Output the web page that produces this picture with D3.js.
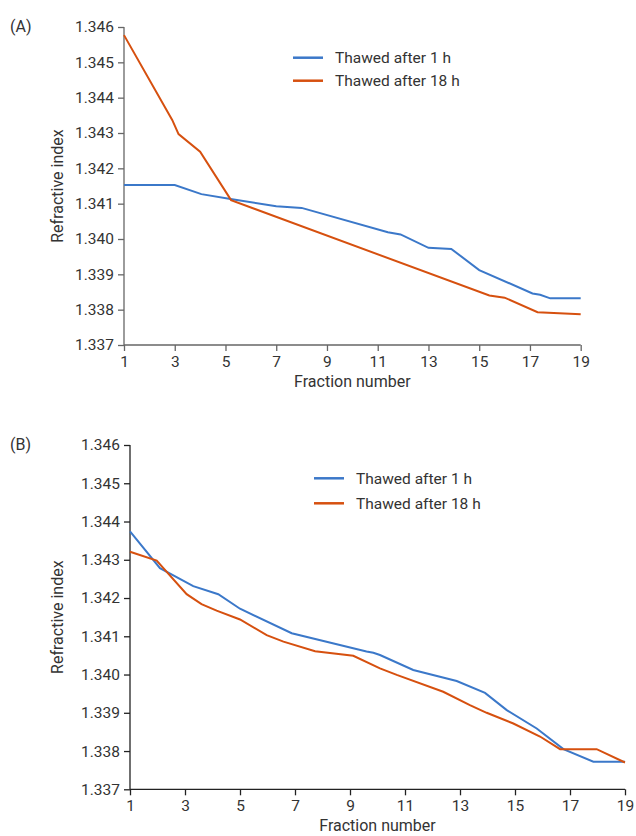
<!DOCTYPE html>
<html>
<head>
<meta charset="utf-8">
<script src="https://cdn.jsdelivr.net/npm/d3@7"></script>
<style>
  body { margin: 0; background: #fff; }
  text { font-family: Roboto, "Noto Sans", sans-serif; fill: #333; }
</style>
</head>
<body>
<div id="chart"></div>
<script>
// Panel A: [fraction, refractive index]
const seriesNames = ["Thawed after 1 h", "Thawed after 18 h"];
const xTicks = [1, 3, 5, 7, 9, 11, 13, 15, 17, 19];
const yTicks = [1.337, 1.338, 1.339, 1.340, 1.341, 1.342, 1.343, 1.344, 1.345, 1.346];

const panelA_1h = [
    [1, 1.34153], [3, 1.34153], [4.05, 1.34127], [5.2, 1.34113], [7, 1.34093],
    [8, 1.34088], [11.4, 1.34019], [11.9, 1.34013], [13, 1.33975], [13.9, 1.33972],
    [15, 1.33912], [17.1, 1.33846], [17.4, 1.33842], [17.8, 1.33832], [19, 1.33832]
];
const panelA_18h = [
    [1, 1.34577], [2.9, 1.34337], [3.15, 1.34297], [4, 1.34247], [5.22, 1.34110],
    [15.4, 1.33840], [16, 1.33834], [17.3, 1.33793], [19, 1.33787]
];

// Panel B
const panelB_1h = [
    [1, 1.34374], [2.09, 1.34278], [3.3, 1.34231], [4.21, 1.34210], [5, 1.34172],
    [6.88, 1.34108], [9.6, 1.34060], [9.85, 1.34057], [10.09, 1.34051], [11.3, 1.34012],
    [12.88, 1.33983], [13.91, 1.33952], [14.7, 1.33907], [15.79, 1.33859], [16.76, 1.33805],
    [17.85, 1.33772], [19, 1.33772]
];
const panelB_18h = [
    [1, 1.34321], [1.97, 1.34298], [3.06, 1.34210], [3.6, 1.34184], [4.15, 1.34167],
    [5, 1.34144], [5.97, 1.34103], [6.58, 1.34086], [7.73, 1.34061], [9.12, 1.34049],
    [10.09, 1.34016], [10.7, 1.33999], [12.39, 1.33955], [13.36, 1.33920], [13.97, 1.33900],
    [14.94, 1.33872], [15.91, 1.33838], [16.64, 1.33805], [17.97, 1.33805], [19, 1.33770]
];

const colors = ["#3b78c9", "#d6500f"];

const svg = d3.select("#chart").append("svg")
    .attr("width", 636)
    .attr("height", 836);

function drawPanel(p) {
    const x = d3.scaleLinear().domain([1, 19]).range([p.left, p.right]);
    const y = d3.scaleLinear().domain([1.337, 1.346]).range([p.bottom, p.top]);

    const g = svg.append("g");

    const xAxis = g.append("g")
        .attr("transform", `translate(0,${p.bottom})`)
        .call(d3.axisBottom(x).tickValues(xTicks).tickSize(6).tickPadding(5).tickFormat(d3.format("d")));
    const yAxis = g.append("g")
        .attr("transform", `translate(${p.left},0)`)
        .call(d3.axisLeft(y).tickValues(yTicks).tickSize(6).tickPadding(4).tickFormat(d3.format(".3f")));

    [xAxis, yAxis].forEach(a => {
        a.select(".domain").attr("stroke", p.axisColor).attr("stroke-width", 1.3);
        a.selectAll(".tick line").attr("stroke", p.axisColor).attr("stroke-width", 1.3);
        a.selectAll("text").style("font-size", "15.5px").style("font-family", "Roboto, sans-serif").attr("fill", "#333");
    });
    // ticks sit outside; domain has no end caps
    xAxis.select(".domain").attr("d", `M${p.left},0H${p.right}`);
    yAxis.select(".domain").attr("d", `M0,${p.bottom}V${p.top}`);

    const line = d3.line().x(d => x(d[0])).y(d => y(d[1]));
    [p.s1, p.s2].forEach((s, i) => {
        g.append("path")
            .datum(s)
            .attr("d", line)
            .attr("fill", "none")
            .attr("stroke", colors[i])
            .attr("stroke-width", 2);
    });

    g.append("text")
        .attr("x", (p.left + p.right) / 2)
        .attr("y", p.bottom + 42)
        .attr("text-anchor", "middle")
        .style("font-size", "16px")
        .text("Fraction number");

    g.append("text")
        .attr("transform", `translate(${p.ylabelX},${(p.top + p.bottom) / 2}) rotate(-90)`)
        .attr("text-anchor", "middle")
        .attr("dy", "0.35em")
        .style("font-size", "16px")
        .text("Refractive index");

    g.append("text")
        .attr("x", 10)
        .attr("y", p.top + 5)
        .style("font-size", "16px")
        .text(p.tag);

    // legend
    seriesNames.forEach((name, i) => {
        const ly = p.legY + i * p.legGap;
        g.append("line")
            .attr("x1", p.legX).attr("x2", p.legX + 30)
            .attr("y1", ly).attr("y2", ly)
            .attr("stroke", colors[i]).attr("stroke-width", 2.5);
        g.append("text")
            .attr("x", p.legX + 42)
            .attr("y", ly)
            .attr("dy", "0.35em")
            .style("font-size", "15.5px")
            .text(name);
    });
}

drawPanel({ tag: "(A)", left: 124, right: 580.7, top: 27, bottom: 345, axisColor: "#666",
    ylabelX: 57, legX: 293, legY: 57.7, legGap: 23, s1: panelA_1h, s2: panelA_18h });
drawPanel({ tag: "(B)", left: 130, right: 625, top: 445, bottom: 789.3, axisColor: "#222",
    ylabelX: 57, legX: 314, legY: 478.3, legGap: 25, s1: panelB_1h, s2: panelB_18h });
</script>
</body>
</html>
